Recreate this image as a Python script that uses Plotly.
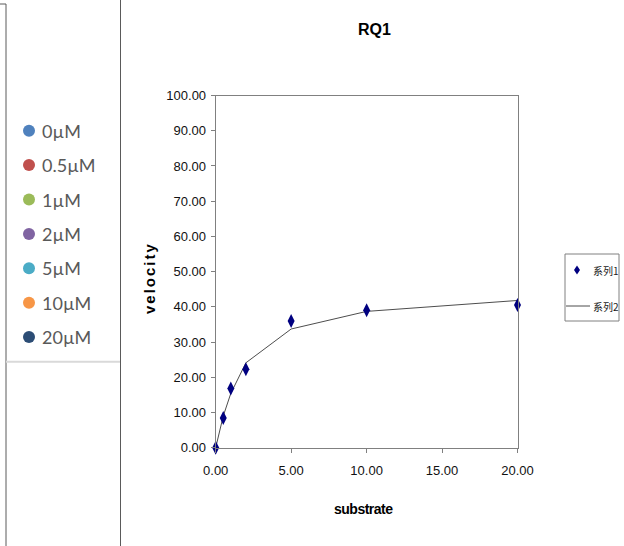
import plotly.graph_objects as go

W, H = 624, 546

# ---- data ----
substrate = [0, 0.5, 1, 2, 5, 10, 20]
velocity_obs = [0, 8.4, 16.8, 22.3, 36.0, 39.0, 40.5]
velocity_fit = [0, 9.0, 15.4, 24.1, 33.7, 38.7, 41.8]
series_names = ["系列1", "系列2"]
conc_labels = ["0µM", "0.5µM", "1µM", "2µM", "5µM", "10µM", "20µM"]
conc_colors = ["#4F81BD", "#C0504D", "#9BBB59", "#8064A2", "#4BACC6", "#F79646", "#2C4D75"]
x_ticks = [0, 5, 10, 15, 20]
y_ticks = list(range(0, 101, 10))
chart_title = "RQ1"
x_title = "substrate"
y_title = "velocity"

MARKER_COLOR = "#000080"
FIT_COLOR = "#4d4d4d"


def px(x):
    return x / W


def py(y):
    return 1 - y / H


SANS = "Liberation Sans, Arial, sans-serif"
CJK = "Noto Sans CJK SC, Noto Sans, sans-serif"

fig = go.Figure()

fig.add_trace(go.Scatter(
    x=substrate, y=velocity_fit, mode="lines", name=series_names[1],
    line=dict(color=FIT_COLOR, width=1), cliponaxis=False, showlegend=False,
))
fig.add_trace(go.Scatter(
    x=substrate, y=velocity_obs, mode="markers", name=series_names[0],
    marker=dict(symbol="diamond-tall", size=10, color=MARKER_COLOR),
    cliponaxis=False, showlegend=False,
))

axis_common = dict(
    showline=True, linecolor="#808080", linewidth=1, mirror=True,
    ticks="outside", ticklen=4, tickcolor="#808080", tickwidth=1,
    showgrid=False, zeroline=False, tickformat=".2f", automargin=False,
    tickfont=dict(family=SANS, size=13, color="#111111"),
)

fig.update_layout(
    width=W, height=H,
    margin=dict(l=0, r=0, t=0, b=0, pad=0, autoexpand=False),
    paper_bgcolor="white", plot_bgcolor="white",
    xaxis=dict(domain=[px(215.7), px(517.5)], range=[0, 20],
               tickvals=x_ticks, ticklabelstandoff=7, **axis_common),
    yaxis=dict(domain=[py(447.7), py(95.5)], range=[0, 100],
               tickvals=y_ticks, ticklabelstandoff=2, **axis_common),
    showlegend=False,
)

annotations = [
    dict(text="<b>" + chart_title + "</b>", x=px(374), y=py(29),
         font=dict(family=SANS, size=16, color="#000")),
    dict(text='<b><span style="letter-spacing:2px">' + y_title + "</span></b>",
         x=px(149), y=py(278), textangle=-90,
         font=dict(family=SANS, size=15, color="#000")),
    dict(text='<b><span style="letter-spacing:-0.5px">' + x_title + "</span></b>",
         x=px(363), y=py(509),
         font=dict(family=SANS, size=14, color="#000")),
]
for a in annotations:
    a.update(xref="paper", yref="paper", showarrow=False,
             xanchor="center", yanchor="middle")

shapes = []
# left panel frame lines
line_col = "#5a5a5a"
shapes.append(dict(type="line", x0=px(6), x1=px(6), y0=py(4), y1=py(546),
                   line=dict(color=line_col, width=1)))
shapes.append(dict(type="line", x0=px(0), x1=px(6), y0=py(4), y1=py(4),
                   line=dict(color=line_col, width=1)))
shapes.append(dict(type="line", x0=px(120.5), x1=px(120.5), y0=py(0), y1=py(546),
                   line=dict(color=line_col, width=1)))
shapes.append(dict(type="line", x0=px(6), x1=px(120), y0=py(361.7), y1=py(361.7),
                   line=dict(color="#d9d9d9", width=2)))

# left legend (concentrations)
for i, (lab, col) in enumerate(zip(conc_labels, conc_colors)):
    cy = 130.7 + 34.4 * i
    r = 6
    shapes.append(dict(type="circle", x0=px(29 - r), x1=px(29 + r),
                       y0=py(cy + r), y1=py(cy - r),
                       fillcolor=col, line=dict(color=col, width=0)))
    annotations.append(dict(text=lab, x=px(40), y=py(cy), xref="paper", yref="paper",
                            showarrow=False, xanchor="left", yanchor="middle",
                            font=dict(family="Lato, Open Sans, sans-serif", size=18,
                                      color="#595959")))

# right legend (series)
LX0, LX1, LY0, LY1 = 565, 619, 254, 321
shapes.append(dict(type="rect", x0=px(LX0), x1=px(LX1), y0=py(LY1), y1=py(LY0),
                   line=dict(color="#808080", width=1), fillcolor="white"))
dcx, dcy, dw, dh = 577, 270, 3, 4.5
shapes.append(dict(
    type="path",
    path="M {} {} L {} {} L {} {} L {} {} Z".format(
        px(dcx), py(dcy - dh), px(dcx + dw), py(dcy),
        px(dcx), py(dcy + dh), px(dcx - dw), py(dcy)),
    fillcolor=MARKER_COLOR, line=dict(color=MARKER_COLOR, width=0)))
shapes.append(dict(type="line", x0=px(566), x1=px(590), y0=py(306), y1=py(306),
                   line=dict(color=FIT_COLOR, width=1)))
for name, yy in zip(series_names, [270, 306]):
    annotations.append(dict(text=name, x=px(590.5), y=py(yy), xref="paper", yref="paper",
                            showarrow=False, xanchor="left", yanchor="middle",
                            font=dict(family=CJK, size=10, color="#1a1a1a")))

for s in shapes:
    s.update(xref="paper", yref="paper")

fig.update_layout(annotations=annotations, shapes=shapes)

fig.write_html("out.html", config={"displayModeBar": False},
               post_script="document.body.style.margin='0';")
